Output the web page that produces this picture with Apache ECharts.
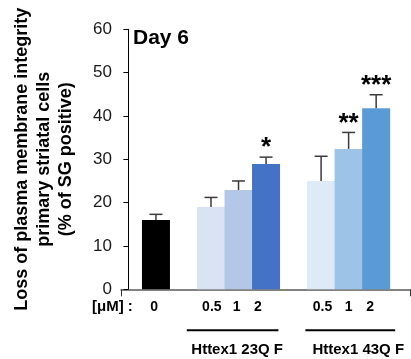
<!DOCTYPE html>
<html><head><meta charset="utf-8">
<script src="https://cdn.jsdelivr.net/npm/echarts@6/dist/echarts.min.js"></script>
<style>html,body{margin:0;padding:0;background:#fff}#c{width:411px;height:359px}</style>
</head><body><div id="c"></div>
<script>
// ---- data ----
const positions = [1, 3, 4, 5, 7, 8, 9];
const doseLabels = ['0', '0.5', '1', '2', '0.5', '1', '2'];
const labelPositions = [0.93, 3.03, 3.93, 4.7, 7.05, 8.0, 8.78];
const values = [16.0, 19.0, 22.9, 28.9, 25.0, 32.4, 41.8];
const errors = [1.3, 2.2, 2.1, 1.6, 5.7, 3.8, 3.1];
const stars = ['', '', '', '*', '', '**', '***'];
const groupNames = ['Httex1 23Q F', 'Httex1 43Q F'];
const groupSpans = [[2.12, 5.45], [6.43, 9.69]];
const groupLabelCenters = [3.95, 8.35];
const unitLabel = '[\u03bcM] :';
const yMin = 0, yMax = 60, yStep = 10;
const xMin = -0.27, xMax = 10.23;
const barColors = ['#000000', '#DAE3F3', '#B4C7E7', '#4472C4', '#DEEBF7', '#9DC3E6', '#5B9BD5'];

const FONT = 'Liberation Sans, Arial, sans-serif';
const chart = echarts.init(document.getElementById('c'), null, {renderer: 'canvas'});

const barData = positions.map((p, i) => ({value: [p, values[i]], itemStyle: {color: barColors[i]}}));
const errData = positions.map((p, i) => [p, values[i], errors[i]]);

const option = {
  animation: false,
  backgroundColor: '#fff',
  title: {
    text: 'Day 6', left: 133, top: 28, padding: 0,
    textStyle: {fontFamily: FONT, fontWeight: 'bold', fontSize: 21, color: '#000'}
  },
  grid: {left: 121, right: 1, top: 29.3, bottom: 69.7, containLabel: false},
  xAxis: {
    type: 'value', min: xMin, max: xMax,
    splitLine: {show: false},
    axisLine: {show: true, lineStyle: {color: '#595959', width: 1.5}},
    axisTick: {show: true, customValues: [xMin, xMax], length: 7, inside: false, lineStyle: {color: '#333', width: 1}},
    axisLabel: {
      show: true, customValues: labelPositions, margin: 11,
      fontFamily: FONT, fontWeight: 'bold', fontSize: 14, color: '#000',
      formatter: (v) => {
        let best = 0, bd = 1e9;
        labelPositions.forEach((p, i) => { const d = Math.abs(p - v); if (d < bd) { bd = d; best = i; } });
        return doseLabels[best];
      }
    }
  },
  yAxis: {
    type: 'value', min: yMin, max: yMax, interval: yStep,
    splitLine: {show: false},
    axisLine: {show: true, lineStyle: {color: '#000', width: 1}},
    axisTick: {show: true, length: 5, inside: false, lineStyle: {color: '#000'}},
    axisLabel: {margin: 9, fontFamily: FONT, fontSize: 17, color: '#1a1a1a'},
    name: 'Loss of plasma membrane integrity\nprimary striatal cells\n(% of SG positive)',
    nameLocation: 'middle', nameRotate: 90, nameGap: 44,
    nameTextStyle: {fontFamily: FONT, fontWeight: 'bold', fontSize: 18, lineHeight: 22, color: '#000', align: 'center'}
  },
  series: [
    {
      type: 'bar', data: barData, barWidth: 28, z: 2
    },
    {
      type: 'custom', data: errData, z: 3,
      renderItem: (params, api) => {
        const x = api.value(0), v = api.value(1), e = api.value(2);
        const p0 = api.coord([x, v]);
        const p1 = api.coord([x, v + e]);
        const hw = 6.5;
        const st = {stroke: '#3a3a3a', lineWidth: 1.5};
        const children = [
          {type: 'line', shape: {x1: p0[0], y1: p0[1], x2: p1[0], y2: p1[1]}, style: st},
          {type: 'line', shape: {x1: p1[0] - hw, y1: p1[1], x2: p1[0] + hw, y2: p1[1]}, style: st}
        ];
        const s = stars[params.dataIndex];
        if (s) {
          children.push({type: 'text', style: {
            text: s, x: p1[0], y: p1[1] - 9, align: 'center', verticalAlign: 'middle',
            fontFamily: FONT, fontWeight: 'bold', fontSize: 26, fill: '#000'
          }});
        }
        return {type: 'group', children};
      }
    }
  ]
};
chart.setOption(option);

// annotations below the axis, positioned through the axis scale
const axisY = chart.convertToPixel({gridIndex: 0}, [0, 0])[1];
const gfx = [];
gfx.push({type: 'text', left: 92, top: axisY + 10,
  style: {text: unitLabel, fontFamily: FONT, fontWeight: 'bold', fontSize: 15, fill: '#000'}});
groupSpans.forEach((sp, i) => {
  const a = chart.convertToPixel({gridIndex: 0}, [sp[0], 0])[0];
  const b = chart.convertToPixel({gridIndex: 0}, [sp[1], 0])[0];
  const c = chart.convertToPixel({gridIndex: 0}, [groupLabelCenters[i], 0])[0];
  gfx.push({type: 'line', shape: {x1: a, y1: axisY + 41, x2: b, y2: axisY + 41}, style: {stroke: '#000', lineWidth: 2}});
  gfx.push({type: 'text', x: c, y: axisY + 61,
    style: {text: groupNames[i], align: 'center', verticalAlign: 'middle', fontFamily: FONT, fontWeight: 'bold', fontSize: 15, fill: '#000'}});
});
chart.setOption({graphic: gfx});
</script></body></html>
